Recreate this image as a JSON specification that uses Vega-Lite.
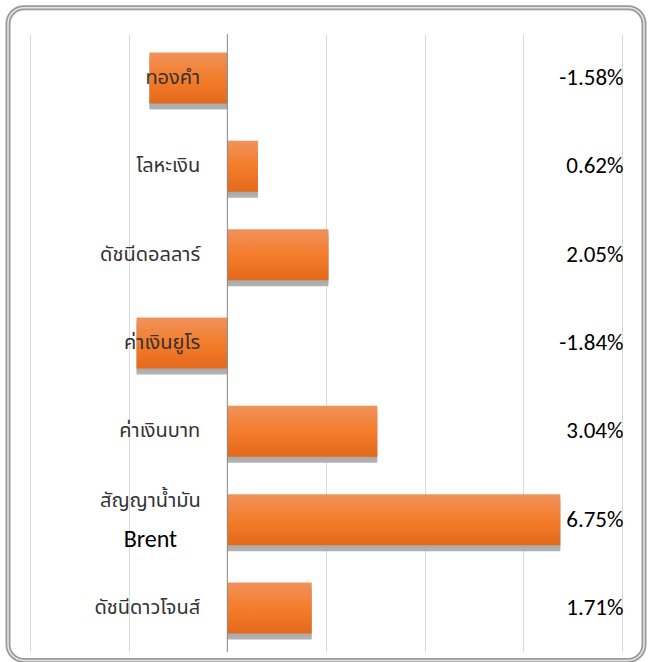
{
  "$schema": "https://vega.github.io/schema/vega-lite/v6.json",
  "width": 592,
  "height": 618,
  "autosize": {"type": "none"},
  "padding": {"left": 30, "top": 34, "right": 27, "bottom": 10},
  "background": "white",
  "config": {"view": {"stroke": null}},
  "data": {"values": [
    {"name": "ทองคำ", "value": -1.58},
    {"name": "โลหะเงิน", "value": 0.62},
    {"name": "ดัชนีดอลลาร์", "value": 2.05},
    {"name": "ค่าเงินยูโร", "value": -1.84},
    {"name": "ค่าเงินบาท", "value": 3.04},
    {"name": "สัญญาน้ำมัน Brent", "value": 6.75},
    {"name": "ดัชนีดาวโจนส์", "value": 1.71}
  ]},
  "transform": [{"calculate": "replace(format(datum.value, '.2f'), '\u2212', '-') + '%'", "as": "label"}],
  "layer": [
    {
      "mark": {"type": "bar", "color": "#d6d6d6", "yOffset": 3, "opacity": 0.9},
      "encoding": {
        "y": {"field": "name", "type": "nominal", "axis": null,
              "scale": {"domain": ["ทองคำ", "โลหะเงิน", "ดัชนีดอลลาร์", "ค่าเงินยูโร", "ค่าเงินบาท", "สัญญาน้ำมัน Brent", "ดัชนีดาวโจนส์"], "paddingInner": 0.423, "paddingOuter": 0.21}},
        "x": {"field": "value", "type": "quantitative",
              "scale": {"domain": [-4, 8], "nice": false},
              "axis": {"orient": "bottom", "grid": true, "gridColor": "#d9d9d9", "ticks": false, "labels": false, "domain": false, "title": null, "values": [-4, -2, 2, 4, 6, 8]}}
      }
    },
    {
      "mark": {"type": "bar", "color": "#a3a3a3", "yOffset": 6, "opacity": 0.85},
      "encoding": {
        "y": {"field": "name", "type": "nominal"},
        "x": {"field": "value", "type": "quantitative"}
      }
    },
    {
      "mark": {"type": "bar", "color": {"gradient": "linear", "x1": 0, "y1": 0, "x2": 0, "y2": 1,
        "stops": [{"offset": 0, "color": "#f0925c"}, {"offset": 0.5, "color": "#f47d2b"}, {"offset": 1, "color": "#e3691b"}]}},
      "encoding": {
        "y": {"field": "name", "type": "nominal"},
        "x": {"field": "value", "type": "quantitative"}
      }
    },
    {
      "data": {"values": [{}]},
      "mark": {"type": "rule", "color": "#868686", "strokeWidth": 1},
      "encoding": {"x": {"datum": 0}}
    },
    {
      "transform": [{"filter": "datum.name !== 'สัญญาน้ำมัน Brent'"}],
      "mark": {"type": "text", "align": "right", "baseline": "middle", "fontSize": 20, "font": "Tahoma, Noto Sans Thai, DejaVu Sans, sans-serif", "color": "#333333"},
      "encoding": {
        "y": {"field": "name", "type": "nominal"},
        "x": {"datum": -0.55},
        "text": {"field": "name"}
      }
    },
    {
      "transform": [{"filter": "datum.name === 'สัญญาน้ำมัน Brent'"}],
      "mark": {"type": "text", "align": "center", "baseline": "middle", "fontSize": 20, "dy": -19, "font": "Tahoma, Noto Sans Thai, DejaVu Sans, sans-serif", "color": "#333333"},
      "encoding": {
        "y": {"field": "name", "type": "nominal"},
        "x": {"datum": -1.56},
        "text": {"value": "สัญญาน้ำมัน"}
      }
    },
    {
      "transform": [{"filter": "datum.name === 'สัญญาน้ำมัน Brent'"}],
      "mark": {"type": "text", "align": "center", "baseline": "middle", "fontSize": 24, "dy": 20, "font": "Carlito, Liberation Sans Narrow, Liberation Sans, sans-serif", "color": "#000000"},
      "encoding": {
        "y": {"field": "name", "type": "nominal"},
        "x": {"datum": -1.56},
        "text": {"value": "Brent"}
      }
    },
    {
      "mark": {"type": "text", "align": "right", "baseline": "middle", "fontSize": 23, "font": "Carlito, Liberation Sans Narrow, Liberation Sans, sans-serif", "color": "#000000"},
      "encoding": {
        "y": {"field": "name", "type": "nominal"},
        "x": {"datum": 8.03},
        "text": {"field": "label"}
      }
    },
    {
      "data": {"values": [{}]},
      "mark": {"type": "rect", "filled": false, "stroke": "#9a9a9a", "strokeWidth": 5, "cornerRadius": 16, "clip": false},
      "encoding": {
        "x": {"datum": -4.446},
        "x2": {"datum": 8.446},
        "y": {"datum": "ทองคำ", "bandPosition": -0.88},
        "y2": {"datum": "ดัชนีดาวโจนส์", "bandPosition": 1.53}
      }
    },
    {
      "data": {"values": [{}]},
      "mark": {"type": "rect", "filled": false, "stroke": "#e6e6e6", "strokeWidth": 1.5, "cornerRadius": 16, "clip": false},
      "encoding": {
        "x": {"datum": -4.446},
        "x2": {"datum": 8.446},
        "y": {"datum": "ทองคำ", "bandPosition": -0.88},
        "y2": {"datum": "ดัชนีดาวโจนส์", "bandPosition": 1.53}
      }
    }
  ]
}
